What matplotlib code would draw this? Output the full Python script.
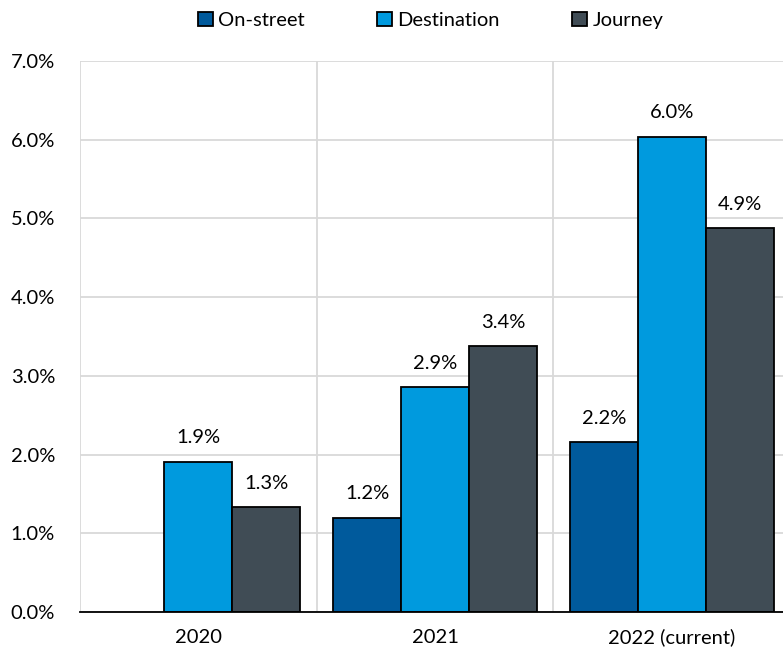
import numpy as np
import matplotlib.pyplot as plt

plt.rcParams['font.family'] = ['Lato', 'DejaVu Sans']

years = ["2020", "2021", "2022 (current)"]
on_street = [np.nan, 1.20, 2.16]
destination = [1.91, 2.86, 6.04]
journey = [1.33, 3.38, 4.88]

series = [("On-street", on_street, "#005a9c"),
          ("Destination", destination, "#009ade"),
          ("Journey", journey, "#404c55")]

fig = plt.figure(figsize=(7.83, 6.53), dpi=100)
ax = fig.add_axes([80 / 783, 1 - 612 / 653, 710 / 783, 551 / 653])

x = np.arange(len(years))
w = 0.287
for i, (name, vals, col) in enumerate(series):
    pos = x + (i - 1) * w
    bars = ax.bar(pos, vals, width=w, color=col, edgecolor="black",
                  linewidth=1.3, label=name, zorder=3)
    for b, v in zip(bars, vals):
        if np.isnan(v):
            continue
        ax.annotate(f"{v:.1f}%", (b.get_x() + b.get_width() / 2, v),
                    xytext=(0, 11), textcoords="offset points",
                    ha="center", va="bottom", fontsize=14.5)

ax.set_xlim(-0.5, 2.5)
ax.set_ylim(0, 7)
ax.set_yticks(np.arange(0, 7.01, 1))
ax.set_yticklabels([f"{t:.1f}%" for t in np.arange(0, 7.01, 1)])
ax.set_xticks(x)
ax.set_xticklabels(years)
ax.tick_params(length=0, labelsize=14.5)
ax.tick_params(axis="y", pad=18)
ax.tick_params(axis="x", pad=12)

# gridlines: horizontal at each percent, vertical between year groups
ax.grid(axis="y", color="#d9d9d9", linewidth=1.3, zorder=0)
for b in [-0.5, 0.5, 1.5]:
    ax.axvline(b, color="#d9d9d9", linewidth=1.3, zorder=0)
for s in ["top", "right", "left"]:
    ax.spines[s].set_visible(False)
ax.spines["bottom"].set_color("black")
ax.spines["bottom"].set_linewidth(1.3)
ax.spines["bottom"].set_zorder(4)

fig.legend(loc="upper center", bbox_to_anchor=(0.55, 1.01), ncol=3,
           frameon=False, fontsize=14.5, handlelength=0.75, handleheight=0.75,
           columnspacing=3.6, handletextpad=0.25)

fig.savefig("out.png", dpi=100)
